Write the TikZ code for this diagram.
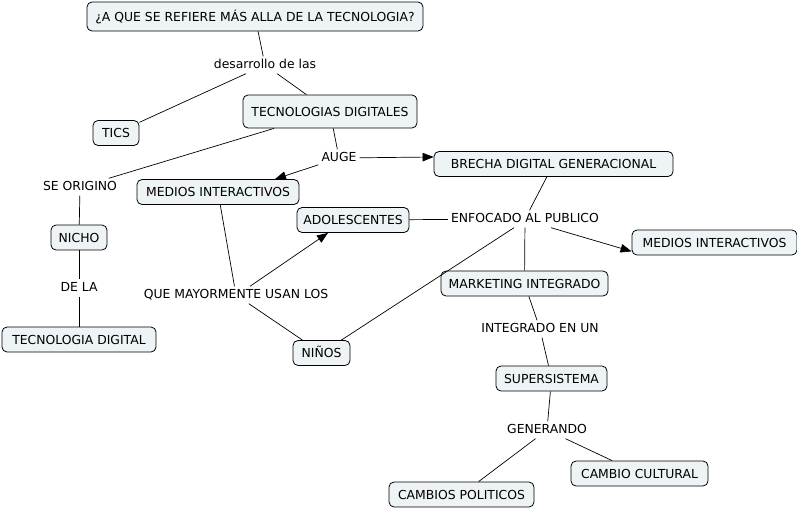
\documentclass[tikz,border=0pt]{standalone}
\usepackage{fontspec}
\setmainfont{DejaVu Sans}
\usetikzlibrary{arrows.meta}
\definecolor{cmapfill}{HTML}{EEF3F6}
\tikzset{
  concept/.style={draw, rounded corners=5pt, fill=cmapfill, line width=0.8pt,
    minimum height=25pt, inner sep=0pt, text height=9pt, text depth=0pt},
  linkword/.style={inner sep=3pt, text height=9pt, text depth=2pt},
  link/.style={line width=0.7pt},
  linkarrow/.style={link, -{Triangle[length=11pt,width=8.5pt]}}
}
\begin{document}
\begin{tikzpicture}[x=1pt, y=-1pt, font=\fontsize{12.4}{14}\selectfont]
  \useasboundingbox (0,0) rectangle (797,509);

  % concepts
  \node[concept, minimum width=336pt, minimum height=29pt] (pregunta) at (255,16.5) {¿A QUE SE REFIERE MÁS ALLA DE LA TECNOLOGIA?};
  \node[concept, minimum width=46pt] (tics) at (116,133) {TICS};
  \node[concept, minimum width=174pt, minimum height=33pt] (tecdig) at (330,111.5) {TECNOLOGIAS DIGITALES};
  \node[concept, minimum width=239pt] (brecha) at (553.5,164) {BRECHA DIGITAL GENERACIONAL};
  \node[concept, minimum width=162pt] (mediosA) at (218,192) {MEDIOS INTERACTIVOS};
  \node[concept, minimum width=56pt] (nicho) at (79,237.5) {NICHO};
  \node[concept, minimum width=154pt] (tecnologia) at (79,339.5) {TECNOLOGIA DIGITAL};
  \node[concept, minimum width=112pt] (adolescentes) at (353,220) {ADOLESCENTES};
  \node[concept, minimum width=165pt] (mediosB) at (714.5,242.5) {MEDIOS INTERACTIVOS};
  \node[concept, minimum width=167pt] (marketing) at (524.5,283.5) {MARKETING INTEGRADO};
  \node[concept, minimum width=57pt] (ninos) at (321.5,353) {NIÑOS};
  \node[concept, minimum width=111pt] (super) at (551.5,378.5) {SUPERSISTEMA};
  \node[concept, minimum width=137pt] (cultural) at (639.5,473.5) {CAMBIO CULTURAL};
  \node[concept, minimum width=145pt] (politicos) at (461.5,494.5) {CAMBIOS POLITICOS};

  % linking words
  \node[linkword] (desarrollo) at (265,65) {desarrollo de las};
  \node[linkword] (auge) at (339,158) {AUGE};
  \node[linkword] (origino) at (80,187) {SE ORIGINO};
  \node[linkword] (dela) at (79,288) {DE LA};
  \node[linkword] (enfocado) at (525,219) {ENFOCADO AL PUBLICO};
  \node[linkword] (usan) at (236,295) {QUE MAYORMENTE USAN LOS};
  \node[linkword] (integrado) at (540,329) {INTEGRADO EN UN};
  \node[linkword] (generando) at (547,430) {GENERANDO};

  % connectors
  \draw[link] (pregunta) -- (desarrollo);
  \draw[link] (desarrollo) -- (tics);
  \draw[link] (desarrollo) -- (tecdig);
  \draw[link] (tecdig) -- (origino);
  \draw[link] (origino) -- (nicho);
  \draw[link] (nicho) -- (dela);
  \draw[link] (dela) -- (tecnologia);
  \draw[link] (tecdig) -- (auge);
  \draw[linkarrow] (auge) -- ([yshift=7pt]brecha.west);
  \draw[linkarrow] (auge) -- ([xshift=57pt]mediosA.north);
  \draw[link] (mediosA) -- (usan);
  \draw[linkarrow] ([xshift=14pt]usan.north) -- ([xshift=-25pt]adolescentes.south);
  \draw[link] (usan) -- (ninos);
  \draw[link] (ninos) -- ([xshift=-11pt]enfocado.south);
  \draw[link] (adolescentes) -- (enfocado);
  \draw[link] (brecha) -- (enfocado);
  \draw[linkarrow] ([xshift=26pt]enfocado.south) -- ([yshift=4pt]mediosB.south west);
  \draw[link] (enfocado) -- (marketing);
  \draw[link] (marketing) -- (integrado);
  \draw[link] (integrado) -- (super);
  \draw[link] (super) -- (generando);
  \draw[link] (generando) -- (cultural);
  \draw[link] (generando) -- (politicos);

\end{tikzpicture}
\end{document}
